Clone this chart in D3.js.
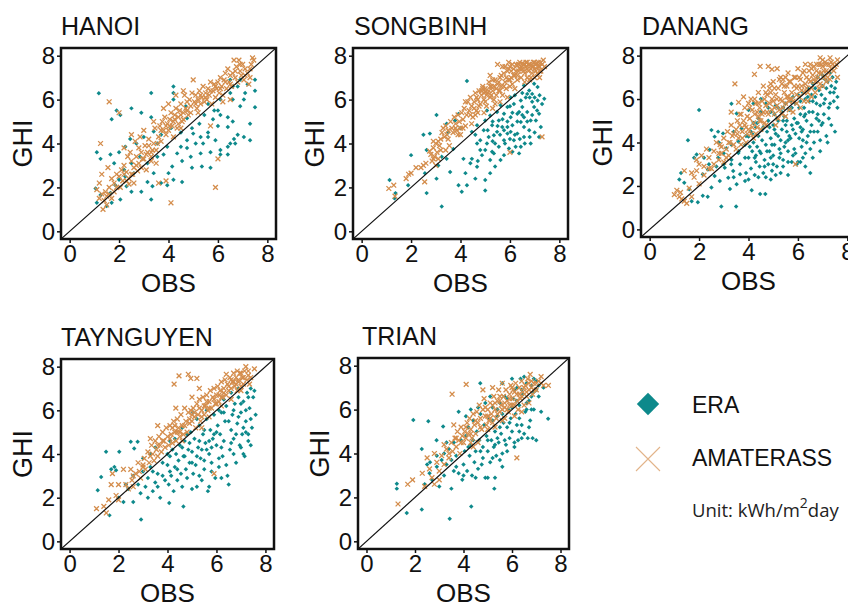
<!DOCTYPE html>
<html><head><meta charset="utf-8">
<script src="https://cdn.jsdelivr.net/npm/d3@7"></script>
<style>body{margin:0;background:#fff}svg{display:block}</style>
</head><body><svg id="c" width="848" height="602"></svg>
<script>
// ---------- data ----------
const stations = ["HANOI","SONGBINH","DANANG","TAYNGUYEN","TRIAN"];
const seriesNames = ["ERA","AMATERASS"];
const tickValues = [0,2,4,6,8];
const xTitle = "OBS", yTitle = "GHI";
const unitText = ["Unit: kWh/m","2","day"];

const hanoiERA = [[1.18,6.29],[4.2,6.6],[4.2,6.3],[3.3,6.3],[2.5,5.6],[1.9,5.5],[2.05,5.3],[1.7,5.1],[2.9,5.4],[3.3,5.2],[4.2,6.0],[4.7,5.7],[5.6,5.8],[6.0,5.5],[6.1,6.0],[6.5,6.3],[6.6,6.6],[7.2,6.7],[7.5,6.4],[7.1,6.3],[6.8,6.6],[6.9,6.9],[6.5,6.9],[7.5,6.9],[6.6,6.0],[6.9,5.7],[6.4,5.2],[5.8,5.1],[6.1,5.3],[6.6,5.0],[6.4,4.75],[6.0,4.8],[5.6,4.5],[5.3,4.3],[5.0,4.45],[4.75,4.15],[5.1,4.0],[5.4,4.0],[5.6,4.3],[5.9,4.15],[6.8,4.4],[6.7,4.0],[7.3,4.15],[6.4,3.85],[6.1,3.7],[6.1,3.5],[6.4,3.5],[5.7,3.6],[5.7,2.9],[5.3,3.55],[4.9,3.4],[4.55,3.2],[4.15,2.95],[4.0,2.65],[4.2,2.35],[4.55,2.25],[3.7,2.2],[3.4,2.65],[3.15,2.25],[2.9,1.8],[3.3,1.45],[2.5,1.8],[2.3,2.05],[2.05,1.45],[1.7,1.3],[1.5,1.15],[1.1,1.3],[1.25,1.65],[1.05,1.95],[1.65,1.75],[1.85,2.1],[2.0,2.35],[2.2,2.8],[1.8,3.1],[1.25,3.3],[1.1,3.6],[1.65,3.5],[2.0,3.6],[2.25,3.85],[2.45,4.2],[2.7,4.0],[3.0,4.3],[3.4,4.55],[3.7,4.4],[3.55,4.0],[3.95,3.85],[3.8,3.5],[4.35,3.55],[4.5,3.85],[4.75,3.8],[4.95,4.7],[4.5,4.5],[4.1,4.7],[3.55,3.4],[3.15,3.1],[2.85,3.4],[2.5,3.1],[2.6,2.65],[2.25,2.5],[3.35,2.05],[3.95,2.1],[4.95,2.9],[5.35,2.95],[6.5,4.0],[7.05,4.3],[7.3,4.9],[7.5,5.65],[5.85,5.5],[4.75,5.15],[5.25,4.9],[5.45,5.3],[7.05,6.0],[6.65,4.2]];
const hanoiAMA = [[1.1,1.9],[1.2,2.2],[1.3,1.7],[1.4,1.4],[1.5,1.2],[1.35,1.0],[1.5,1.6],[1.6,2.0],[1.2,1.5],[1.7,1.5],[1.45,1.8],[1.8,2.2],[1.9,2.6],[1.7,2.4],[1.25,4.0],[1.6,5.9],[2.0,5.4],[1.55,2.9],[1.3,2.6],[2.0,2.5],[2.1,2.8],[2.2,3.0],[2.3,2.7],[2.4,2.4],[2.5,3.2],[2.6,2.9],[2.7,3.4],[2.8,3.1],[2.9,3.6],[2.15,2.3],[2.35,3.4],[2.55,2.6],[2.75,2.75],[2.45,3.6],[2.65,4.1],[2.85,4.3],[2.2,3.8],[2.9,2.9],[2.05,2.0],[2.4,2.15],[2.6,2.2],[3.0,3.3],[2.8,3.8],[2.5,4.4],[3.1,3.5],[3.2,3.9],[3.3,3.2],[3.4,4.0],[3.5,3.7],[3.6,4.3],[3.7,4.1],[3.8,4.6],[3.9,4.4],[3.0,4.6],[3.2,4.2],[3.45,4.7],[3.65,4.8],[3.75,5.0],[3.85,5.2],[3.95,4.9],[3.3,3.6],[3.6,2.2],[3.9,2.3],[3.5,3.1],[3.1,2.8],[3.8,5.6],[3.4,5.0],[3.05,3.9],[4.0,4.6],[4.05,5.1],[4.1,5.4],[4.15,4.8],[4.2,5.0],[4.25,5.3],[4.3,5.6],[4.35,4.7],[4.4,5.2],[4.45,5.5],[4.5,5.8],[4.55,5.0],[4.6,5.4],[4.65,6.2],[4.7,5.6],[4.75,5.9],[4.8,5.3],[4.85,6.0],[4.9,5.7],[4.95,6.3],[4.1,1.3],[4.2,4.3],[4.5,4.7],[4.3,6.2],[4.0,5.8],[4.6,6.4],[5.0,6.9],[5.05,5.9],[5.1,6.2],[5.15,5.6],[5.2,6.0],[5.25,6.4],[5.3,5.8],[5.35,6.1],[5.4,6.6],[5.45,5.9],[5.5,6.3],[5.55,6.0],[5.6,6.5],[5.65,6.2],[5.7,6.8],[5.75,5.8],[5.8,6.4],[5.85,6.7],[5.9,6.1],[5.95,6.5],[5.9,2.0],[5.7,4.8],[6.0,3.3],[6.0,6.8],[6.05,6.3],[6.1,7.0],[6.15,6.6],[6.2,6.2],[6.25,6.9],[6.3,7.2],[6.35,6.5],[6.4,7.4],[6.45,6.8],[6.5,7.1],[6.55,6.6],[6.6,7.2],[6.65,7.8],[6.7,7.0],[6.75,7.5],[6.8,6.8],[6.85,7.8],[6.9,7.3],[6.95,7.1],[7.0,7.6],[7.05,6.9],[7.1,7.4],[7.2,7.2],[7.3,7.0],[7.35,7.6],[7.4,7.9],[7.45,7.8],[7.25,6.7],[6.5,6.0],[6.2,5.9],[1.6,1.7],[1.9,2.0],[2.2,2.6],[2.5,2.6],[2.7,3.0],[2.95,3.3],[3.15,3.6],[3.35,3.7],[3.55,4.0],[3.7,4.6],[3.9,4.8],[4.05,4.8],[4.25,5.1],[4.4,4.9],[4.6,5.1],[4.75,5.5],[4.9,5.4],[5.1,5.8],[5.3,6.2],[5.5,6.1],[5.7,6.4],[5.9,6.6],[6.1,6.5],[6.3,6.8],[6.5,6.7],[6.7,7.3],[6.9,7.6],[7.1,7.1],[7.3,7.4],[5.2,5.4],[4.5,5.3],[3.3,3.4],[2.3,2.3],[1.8,1.8]];

const songbinhERA = [[1.13,2.34],[1.37,1.74],[1.33,1.5],[2.0,3.47],[1.88,2.1],[2.5,4.4],[2.76,4.45],[2.63,3.7],[3.03,5.3],[2.56,2.65],[2.63,1.74],[3.03,2.4],[3.24,1.13],[3.1,3.0],[3.44,3.3],[3.58,2.7],[3.5,4.5],[3.44,4.9],[3.78,5.05],[3.92,5.35],[4.26,6.85],[3.99,4.7],[3.71,3.75],[4.12,3.3],[4.4,3.1],[4.2,2.65],[3.92,2.1],[4.05,1.8],[4.26,2.1],[4.46,3.3],[4.67,4.0],[4.8,3.7],[4.6,4.4],[4.94,4.6],[5.0,2.34],[5.0,1.86],[5.2,2.65],[5.2,3.25],[5.28,3.62],[5.07,4.0],[5.14,4.3],[5.4,4.0],[5.48,4.53],[5.28,4.83],[5.55,5.05],[5.76,5.36],[5.69,4.75],[5.9,4.45],[5.76,4.15],[5.55,3.85],[5.35,3.55],[5.62,3.25],[5.4,2.95],[5.76,3.47],[5.96,3.77],[6.1,3.62],[6.37,3.55],[6.44,3.85],[6.16,4.15],[6.3,4.45],[6.57,4.3],[6.57,4.75],[6.78,4.6],[6.84,5.05],[6.44,4.98],[6.1,4.83],[6.03,5.2],[6.3,5.36],[6.5,5.66],[6.7,5.43],[6.98,5.66],[7.12,5.96],[7.18,5.36],[7.05,5.05],[7.39,6.04],[6.9,6.26],[6.64,6.1],[6.44,5.96],[6.16,5.8],[5.9,5.66],[6.03,6.1],[7.12,6.57],[6.98,6.72],[6.78,6.41],[6.57,6.64],[5.48,5.43],[5.2,5.28],[5.0,5.05],[4.67,4.83],[4.46,4.53],[5.9,4.75],[5.76,4.6],[6.23,3.85],[6.84,4.0],[7.18,4.3],[7.25,4.75],[5.35,4.38],[4.8,4.15],[4.87,3.47],[4.6,2.4],[4.67,2.94],[3.24,3.4],[6.57,5.2],[6.03,4.53],[6.37,5.43],[5.62,5.74],[5.07,5.5],[6.7,6.26],[5.1,4.6],[5.3,5.0],[5.5,4.8],[5.7,5.1],[5.9,5.0],[6.1,5.4],[6.3,5.0],[6.5,5.3],[6.7,5.0],[6.9,5.3],[7.1,5.5],[7.3,5.8],[5.6,4.4],[5.8,4.0],[6.0,4.2],[6.2,4.4],[6.4,4.2],[6.6,4.0],[6.8,4.3],[7.0,4.5],[6.0,5.7],[6.2,6.2],[6.5,6.3],[6.9,5.9],[7.2,6.2],[5.3,4.1],[5.0,3.7],[4.7,3.2],[6.8,6.1],[7.0,6.1]];
const songbinhAMA = [[1.1,1.95],[1.3,2.1],[1.35,1.6],[1.8,2.4],[2.0,2.65],[2.2,2.9],[2.4,2.9],[2.55,2.25],[2.6,3.1],[2.5,3.0],[1.9,2.6],[2.8,3.5],[2.85,3.2],[2.9,3.8],[2.95,3.4],[3.0,4.0],[3.05,3.6],[3.1,3.3],[2.75,3.65],[3.15,3.9],[3.2,4.2],[3.25,4.5],[3.3,4.7],[3.35,4.3],[3.4,4.8],[3.45,4.4],[3.5,4.6],[3.55,3.9],[3.0,3.0],[3.1,4.1],[3.4,3.7],[2.9,4.1],[3.6,5.0],[3.65,4.7],[3.7,4.5],[3.75,5.2],[3.8,4.9],[3.85,4.6],[3.9,5.3],[3.95,5.0],[4.0,4.7],[4.05,5.4],[4.1,5.1],[4.15,5.6],[4.2,4.8],[4.25,5.3],[4.3,5.9],[4.35,5.5],[4.4,6.1],[4.45,5.7],[4.5,5.2],[4.0,4.4],[4.2,5.9],[3.9,4.4],[4.45,4.9],[4.55,5.9],[4.6,6.3],[4.65,5.5],[4.7,6.0],[4.75,6.4],[4.8,5.8],[4.85,6.2],[4.9,6.6],[4.95,6.0],[5.0,6.5],[5.05,5.7],[5.1,6.3],[5.15,6.8],[5.2,6.1],[5.25,6.6],[5.3,6.4],[5.35,6.0],[5.4,6.9],[5.45,6.2],[5.5,6.7],[5.0,6.35],[4.95,5.4],[5.3,5.6],[4.6,5.3],[5.2,7.1],[5.4,5.8],[5.55,6.4],[5.6,7.0],[5.65,6.6],[5.7,6.2],[5.75,7.2],[5.8,6.8],[5.85,6.5],[5.9,7.3],[5.95,6.9],[6.0,7.5],[6.05,7.0],[6.1,6.7],[6.15,7.4],[6.2,7.1],[6.25,7.6],[6.3,6.9],[6.35,7.3],[6.4,7.7],[6.45,7.0],[6.5,7.4],[5.6,5.9],[5.9,6.1],[6.0,6.6],[6.3,7.55],[5.5,7.6],[5.7,7.5],[6.0,3.6],[5.95,7.7],[6.2,6.5],[6.55,7.6],[6.6,7.2],[6.65,7.5],[6.7,7.7],[6.75,7.3],[6.8,7.6],[6.85,7.0],[6.9,7.5],[6.95,7.7],[7.0,7.4],[7.05,7.6],[7.1,7.2],[7.15,7.7],[7.2,7.5],[7.25,7.3],[7.3,7.6],[7.35,7.8],[7.4,7.5],[6.6,6.8],[6.8,6.9],[7.0,7.0],[7.3,4.3],[6.7,7.0],[7.2,7.0],[6.5,7.65],[7.1,7.65],[4.55,5.6],[4.65,6.1],[4.75,5.7],[4.85,6.4],[4.95,6.3],[5.05,6.2],[5.15,6.4],[5.25,6.2],[5.35,6.6],[5.45,6.5],[5.55,6.8],[5.65,7.1],[5.75,6.6],[5.85,7.0],[5.95,7.4],[6.05,7.3],[6.15,7.1],[6.25,7.3],[6.35,7.6],[6.45,7.5],[6.55,7.3],[6.65,7.7],[6.75,7.6],[6.85,7.4],[6.95,7.5],[7.05,7.3],[7.15,7.5],[7.25,7.7],[6.1,7.6],[6.4,7.4],[6.7,7.4],[7.0,7.7],[5.8,7.5],[6.0,6.9],[6.3,7.1],[6.6,7.6],[6.9,7.2],[7.2,7.3],[5.3,6.9],[5.6,6.4],[5.0,5.9],[4.7,5.4],[4.4,5.3],[4.1,4.7],[3.8,4.7],[3.5,4.2],[3.2,3.7],[2.9,3.3],[4.9,6.5],[5.2,6.6]];

const danangERA = [[2.0,5.5],[1.55,4.1],[1.9,3.45],[1.8,3.3],[1.27,2.6],[1.2,2.3],[1.4,2.15],[1.7,1.3],[1.95,1.25],[2.15,1.55],[2.35,1.5],[2.9,1.05],[3.5,1.05],[4.13,1.8],[4.47,1.63],[4.68,1.63],[1.6,1.85],[2.5,1.93],[2.5,4.57],[2.77,4.5],[2.97,4.42],[2.63,4.27],[3.1,3.74],[2.77,3.3],[2.43,3.67],[3.04,2.84],[3.31,3.21],[3.38,2.69],[3.18,2.38],[3.66,2.54],[3.86,2.23],[3.52,2.08],[3.25,1.86],[2.84,2.23],[2.63,2.46],[2.36,2.76],[2.15,2.54],[3.66,3.0],[3.86,3.3],[3.59,3.52],[3.31,3.9],[3.59,4.05],[3.86,3.9],[4.0,4.27],[3.72,4.65],[3.52,5.33],[3.31,5.78],[4.0,3.3],[4.1,2.8],[4.15,3.6],[4.2,4.0],[4.25,2.5],[4.3,3.1],[4.35,3.8],[4.4,4.3],[4.45,2.9],[4.5,3.5],[4.55,4.1],[4.6,2.6],[4.65,3.2],[4.7,3.9],[4.75,4.5],[4.8,3.0],[4.85,3.6],[4.9,4.2],[4.95,2.7],[5.0,4.8],[4.1,4.5],[4.3,4.7],[4.6,4.7],[4.8,5.0],[4.4,5.1],[4.2,5.8],[4.5,6.0],[4.0,5.5],[4.9,5.4],[4.7,5.8],[5.0,3.4],[5.05,3.9],[5.1,4.4],[5.15,2.9],[5.2,5.0],[5.25,3.7],[5.3,4.1],[5.35,4.6],[5.4,3.2],[5.45,5.2],[5.5,4.0],[5.55,4.5],[5.6,3.6],[5.65,5.5],[5.7,4.2],[5.75,4.8],[5.8,3.4],[5.85,5.1],[5.9,4.4],[5.95,3.0],[5.1,2.5],[5.3,2.6],[5.6,2.5],[5.5,5.8],[5.2,5.6],[5.9,5.8],[5.75,3.1],[5.4,2.9],[5.05,5.3],[5.8,6.1],[6.0,4.9],[6.05,4.2],[6.1,5.3],[6.15,3.8],[6.2,4.6],[6.25,5.6],[6.3,3.5],[6.35,5.0],[6.4,4.3],[6.45,5.9],[6.5,2.6],[6.55,4.8],[6.6,5.4],[6.65,4.0],[6.7,6.1],[6.75,5.1],[6.8,4.5],[6.85,6.4],[6.9,5.7],[6.95,4.8],[7.0,6.6],[7.05,5.3],[7.1,6.0],[7.15,4.3],[7.2,6.8],[7.25,5.6],[7.3,6.3],[7.4,7.0],[7.45,5.9],[7.5,6.5],[7.55,6.8],[7.6,5.6],[7.35,4.8],[6.2,6.3],[6.4,6.5],[6.6,6.7],[6.3,6.0],[6.8,7.0],[7.0,7.1],[6.1,5.9],[7.3,7.2],[6.1,3.1],[6.0,3.1],[6.3,2.9],[2.8,4.0],[3.0,3.5],[3.4,4.5],[4.9,3.3],[5.2,4.3],[5.6,4.1],[6.2,4.1],[6.5,3.7],[6.9,4.1],[4.3,3.4],[4.7,2.4],[5.4,5.6],[6.6,5.9],[4.05,3.8],[4.15,4.4],[4.25,3.3],[4.35,4.9],[4.45,3.6],[4.55,4.6],[4.65,2.9],[4.75,3.6],[4.85,4.7],[4.95,3.9],[5.05,4.6],[5.15,5.1],[5.25,3.3],[5.35,5.4],[5.45,3.8],[5.55,5.0],[5.65,4.3],[5.75,5.6],[5.85,3.7],[5.95,4.9],[6.05,5.6],[6.15,4.5],[6.25,5.2],[6.35,4.0],[6.45,5.4],[6.55,6.2],[6.65,4.5],[6.75,5.8],[6.85,5.0],[6.95,6.2],[7.05,5.8],[7.15,6.5],[7.25,5.1],[7.35,6.6],[7.45,6.3],[5.0,3.0],[5.3,3.5],[5.6,3.1],[5.9,3.5],[6.2,3.3],[6.6,3.3],[6.9,3.6],[7.2,4.0],[7.5,4.5],[7.6,6.1],[6.0,6.2],[5.7,5.9],[5.4,5.0],[5.1,5.7],[4.8,5.6],[4.5,5.4],[4.2,4.9],[3.9,4.3],[3.6,3.6],[3.3,3.0],[3.0,3.0],[2.7,2.9],[2.4,3.0],[2.2,3.3],[3.4,2.4],[3.9,2.6],[4.0,2.3],[4.4,2.4],[4.9,2.3],[6.3,5.3],[6.5,4.5],[6.8,5.3],[7.0,4.9],[7.3,5.8],[6.1,4.7],[5.8,4.6],[5.5,4.8],[6.4,6.1],[6.7,6.5],[7.1,6.9]];
const danangAMA = [[1.0,1.6],[1.1,1.8],[1.2,1.5],[1.3,1.4],[1.4,1.3],[1.5,1.2],[1.25,1.7],[1.4,2.7],[1.6,1.9],[1.7,2.6],[1.8,2.4],[1.9,3.2],[2.0,3.0],[2.2,2.5],[2.3,3.7],[2.4,3.3],[2.5,2.8],[2.6,3.6],[2.7,4.0],[2.0,2.1],[1.7,1.5],[2.1,3.4],[2.8,3.2],[2.85,3.9],[2.9,3.5],[3.0,3.1],[3.0,4.2],[3.1,3.7],[3.15,4.5],[3.2,3.4],[3.25,4.0],[3.3,4.8],[3.35,4.3],[3.4,3.9],[3.45,6.7],[3.5,4.6],[3.55,5.0],[3.6,4.2],[3.6,5.85],[3.65,4.8],[3.7,5.3],[3.75,4.5],[3.8,5.0],[3.85,5.6],[3.9,4.7],[3.95,5.2],[3.3,5.4],[3.8,6.1],[3.5,3.7],[3.7,3.9],[4.0,5.8],[4.0,4.6],[4.05,5.1],[4.1,4.4],[4.15,5.5],[4.2,4.9],[4.24,7.14],[4.25,5.3],[4.3,5.8],[4.35,4.7],[4.4,5.2],[4.45,5.6],[4.47,7.5],[4.5,5.0],[4.55,5.9],[4.6,5.4],[4.65,4.9],[4.7,5.7],[4.75,6.2],[4.8,5.3],[4.8,7.5],[4.85,5.8],[4.9,6.3],[4.95,5.5],[4.95,7.37],[4.1,6.0],[4.4,6.3],[4.6,6.6],[4.3,4.4],[4.7,4.8],[4.9,6.7],[5.0,5.9],[5.05,5.3],[5.1,6.2],[5.15,5.7],[5.16,7.4],[5.2,6.5],[5.25,5.5],[5.3,6.0],[5.35,6.7],[5.4,5.6],[5.45,6.3],[5.5,5.8],[5.55,6.6],[5.6,6.1],[5.65,5.5],[5.7,6.8],[5.75,6.3],[5.8,5.9],[5.85,6.6],[5.9,7.0],[5.95,6.2],[5.2,5.1],[5.5,5.2],[5.8,5.4],[5.3,7.0],[5.6,7.2],[5.1,4.8],[5.4,6.9],[5.7,6.0],[5.9,3.0],[6.0,6.6],[6.05,6.1],[6.1,6.9],[6.15,6.4],[6.2,7.2],[6.25,5.9],[6.3,6.7],[6.35,7.0],[6.4,6.3],[6.45,7.3],[6.5,6.8],[6.55,6.5],[6.6,7.1],[6.65,7.5],[6.7,6.8],[6.75,7.3],[6.8,7.0],[6.85,7.6],[6.9,6.7],[6.95,7.2],[7.0,7.5],[7.05,7.0],[7.1,7.7],[7.15,7.3],[7.2,7.0],[7.25,7.6],[7.3,7.9],[7.35,7.4],[7.4,7.6],[7.5,7.5],[7.6,7.8],[6.1,5.6],[6.4,5.9],[6.7,6.3],[7.0,6.6],[7.3,6.9],[7.6,7.0],[6.3,7.6],[6.9,7.9],[3.55,4.4],[3.65,5.3],[3.75,4.2],[3.85,4.8],[3.95,4.4],[4.05,5.6],[4.15,4.7],[4.25,6.0],[4.35,5.4],[4.45,5.0],[4.55,5.3],[4.65,6.0],[4.75,5.4],[4.85,6.5],[4.95,6.0],[5.05,6.5],[5.15,6.0],[5.25,6.9],[5.35,5.9],[5.45,6.6],[5.55,6.1],[5.65,6.8],[5.75,6.0],[5.85,7.0],[5.95,6.5],[6.05,7.0],[6.15,6.6],[6.25,7.3],[6.35,6.5],[6.45,6.9],[6.55,7.4],[6.65,6.9],[6.75,7.6],[6.85,7.2],[6.95,7.6],[7.05,7.3],[7.15,7.6],[7.25,7.2],[7.35,7.7],[7.45,7.3],[7.55,7.6],[5.05,5.6],[5.35,5.3],[5.65,5.9],[5.95,5.8],[6.25,6.3],[6.55,6.1],[6.85,6.5],[7.15,6.8],[4.5,4.6],[4.2,4.2],[3.9,4.0],[6.0,7.4],[6.5,7.6],[7.0,7.8],[4.4,5.8],[4.7,6.3],[5.0,6.8],[5.5,7.0],[3.4,4.4],[3.2,4.0],[2.9,3.8],[2.6,3.0],[2.4,2.8],[2.2,2.9],[2.8,3.5],[1.9,2.7],[3.1,3.3]];

const tayERA = [[1.15,2.34],[1.63,1.19],[2.92,1.0],[4.07,1.76],[4.65,1.6],[1.49,4.1],[2.03,4.1],[1.83,3.41],[1.9,3.26],[1.29,2.95],[2.5,4.56],[2.78,4.56],[2.64,4.25],[2.6,3.0],[2.8,2.6],[3.0,3.2],[3.1,2.5],[3.2,2.9],[3.3,3.4],[3.4,2.3],[3.5,2.7],[3.6,3.1],[3.7,2.0],[3.8,3.6],[3.9,2.8],[3.3,4.0],[3.5,4.3],[3.0,3.8],[2.4,2.4],[2.2,1.8],[2.6,1.8],[2.9,2.2],[3.2,2.0],[3.6,2.5],[1.7,3.3],[2.0,2.0],[2.3,2.6],[4.0,3.5],[4.05,2.6],[4.1,3.9],[4.15,3.0],[4.2,4.2],[4.25,2.3],[4.3,3.4],[4.35,4.0],[4.4,2.8],[4.45,3.7],[4.5,4.4],[4.55,3.1],[4.6,2.5],[4.65,3.9],[4.7,4.6],[4.75,3.3],[4.8,2.9],[4.85,4.2],[4.9,3.6],[4.95,5.0],[4.3,4.7],[4.6,5.2],[4.1,4.6],[4.8,4.9],[5.0,4.1],[5.05,3.1],[5.1,4.7],[5.15,3.5],[5.2,2.5],[5.25,4.3],[5.3,5.3],[5.35,3.8],[5.4,2.8],[5.45,4.9],[5.5,3.3],[5.55,4.5],[5.6,5.6],[5.65,2.3],[5.7,4.0],[5.75,5.1],[5.8,3.6],[5.85,4.7],[5.9,5.8],[5.95,2.9],[5.2,5.6],[5.5,5.1],[5.7,2.5],[5.3,3.0],[5.8,4.3],[5.05,5.9],[5.6,6.0],[6.0,4.4],[6.05,5.3],[6.1,3.4],[6.15,4.9],[6.2,5.9],[6.25,3.9],[6.3,4.6],[6.35,5.5],[6.4,6.2],[6.45,3.0],[6.5,2.6],[6.55,4.2],[6.6,5.1],[6.65,5.8],[6.7,4.7],[6.75,6.3],[6.8,3.6],[6.85,5.4],[6.9,6.6],[6.95,4.4],[7.0,5.9],[7.05,4.9],[7.1,6.4],[7.15,3.9],[7.2,5.5],[7.25,6.8],[7.3,4.6],[7.35,6.1],[7.4,7.0],[7.45,5.2],[7.5,6.6],[7.55,6.9],[7.6,5.8],[6.3,6.5],[6.6,6.8],[6.9,7.0],[7.1,4.0],[7.3,4.9],[6.1,6.0],[7.2,5.0],[4.1,3.2],[4.4,3.3],[4.7,3.9],[5.0,3.6],[5.3,4.6],[5.6,4.2],[5.9,4.9],[6.2,4.3],[6.5,5.5],[6.8,4.9],[7.1,5.2],[7.4,5.6],[5.4,4.2],[5.7,4.6],[6.0,5.0],[6.3,5.9],[6.6,4.5],[6.9,5.7],[7.2,6.0],[4.6,4.3],[4.9,4.5],[5.2,3.9],[5.5,3.7],[5.8,3.2],[6.1,3.8],[6.4,3.5],[6.7,4.0],[7.0,4.3],[7.4,4.4],[6.2,2.9],[5.0,2.4],[3.8,3.0],[4.0,4.0],[3.4,3.2],[6.7,6.0],[7.0,6.3],[7.3,6.6]];
const tayAMA = [[1.1,1.5],[1.5,1.3],[1.6,1.9],[1.7,2.6],[1.75,3.1],[1.9,2.1],[2.0,1.9],[2.2,3.3],[2.3,2.6],[2.4,2.4],[2.5,3.3],[2.55,2.8],[2.6,2.5],[2.7,3.1],[2.8,3.6],[2.85,3.2],[2.9,2.9],[3.0,3.5],[3.05,3.8],[3.1,3.3],[3.2,4.1],[3.25,3.6],[3.3,3.9],[3.35,4.4],[3.4,4.0],[3.45,3.7],[3.5,4.6],[3.55,4.2],[3.6,3.9],[3.65,4.8],[3.7,4.4],[3.75,4.1],[3.8,5.0],[3.85,4.6],[3.9,4.3],[3.95,5.2],[3.3,4.7],[3.6,5.3],[2.0,2.6],[1.4,1.6],[4.0,4.8],[4.05,4.4],[4.1,5.3],[4.15,4.9],[4.2,4.5],[4.25,5.5],[4.3,5.0],[4.35,4.6],[4.4,5.6],[4.45,5.2],[4.5,4.8],[4.55,5.8],[4.6,5.3],[4.65,4.9],[4.7,6.1],[4.75,5.5],[4.8,5.0],[4.85,5.9],[4.9,5.4],[4.95,6.0],[4.34,6.1],[4.27,7.2],[4.47,7.58],[4.85,7.65],[4.95,7.46],[4.2,5.2],[4.6,4.6],[5.0,5.5],[5.05,6.1],[5.1,5.7],[5.15,5.2],[5.2,7.46],[5.2,6.3],[5.25,5.8],[5.3,6.5],[5.35,5.5],[5.4,6.0],[5.45,6.6],[5.5,5.8],[5.55,6.2],[5.6,6.7],[5.65,6.0],[5.7,6.4],[5.75,6.9],[5.8,6.1],[5.85,6.6],[5.9,3.1],[5.9,7.0],[5.95,6.3],[5.4,5.2],[5.7,5.7],[5.0,6.6],[5.3,7.0],[6.0,6.7],[6.05,7.1],[6.1,6.4],[6.15,6.9],[6.2,7.3],[6.25,6.6],[6.3,7.0],[6.35,7.4],[6.4,6.7],[6.45,7.2],[6.5,6.9],[6.55,7.5],[6.6,7.0],[6.65,7.3],[6.7,7.7],[6.75,7.1],[6.8,7.5],[6.85,6.9],[6.9,7.3],[6.95,7.7],[7.0,7.1],[7.05,7.5],[7.1,7.2],[7.15,7.8],[7.2,8.0],[7.25,7.4],[7.3,7.6],[7.35,7.2],[7.4,7.5],[7.55,7.9],[6.2,6.2],[6.6,6.5],[7.0,6.9],[6.4,7.65],[6.85,7.8],[4.1,4.7],[4.3,5.3],[4.5,5.0],[4.7,5.3],[4.9,5.6],[5.1,5.9],[5.3,6.1],[5.5,6.2],[5.7,6.1],[5.9,6.5],[6.1,6.7],[6.3,6.8],[6.5,7.1],[6.7,7.3],[6.9,7.4],[7.1,7.5],[7.3,7.8],[5.6,6.4],[6.2,6.6],[6.8,7.2],[3.8,4.6],[3.6,4.4],[4.4,5.0],[5.0,5.8],[5.4,5.7],[6.0,6.3],[6.6,7.4],[7.0,7.7],[3.0,3.4],[2.6,3.0]];

const trianERA = [[1.25,2.62],[1.25,2.4],[1.66,1.29],[2.28,1.45],[3.43,1.03],[4.32,1.59],[5.27,2.4],[1.93,5.53],[2.55,5.47],[3.16,5.23],[4.69,7.2],[7.49,5.58],[2.28,4.21],[3.3,4.5],[2.89,4.6],[2.62,3.6],[2.4,2.6],[2.6,3.1],[2.7,2.8],[2.9,3.4],[3.0,2.5],[3.1,3.7],[3.2,3.0],[3.3,3.5],[3.4,4.2],[3.5,2.4],[3.6,3.2],[3.7,3.9],[3.8,3.1],[3.9,4.6],[3.95,2.8],[3.2,4.0],[2.5,3.5],[2.9,3.9],[3.6,4.5],[3.8,5.9],[3.5,3.7],[4.0,3.5],[4.05,4.1],[4.1,4.8],[4.15,3.2],[4.2,5.2],[4.25,3.9],[4.3,4.4],[4.35,3.0],[4.4,5.5],[4.45,3.6],[4.5,4.1],[4.55,5.0],[4.6,3.3],[4.65,4.6],[4.7,5.8],[4.75,3.5],[4.8,4.3],[4.85,5.3],[4.9,2.9],[4.95,4.8],[4.3,6.0],[4.6,6.1],[4.9,6.3],[4.5,2.9],[4.1,5.7],[5.0,4.1],[5.05,5.6],[5.1,3.6],[5.15,4.6],[5.2,6.1],[5.25,4.3],[5.3,5.0],[5.35,3.9],[5.4,5.7],[5.45,4.5],[5.5,6.3],[5.55,4.9],[5.6,4.0],[5.65,5.4],[5.7,6.6],[5.75,4.4],[5.8,5.2],[5.85,6.0],[5.9,4.7],[5.95,5.6],[5.1,6.6],[5.3,2.9],[5.5,3.7],[5.0,2.9],[5.6,7.2],[5.8,4.1],[5.4,4.7],[6.0,5.0],[6.05,6.5],[6.1,4.3],[6.15,5.8],[6.2,7.0],[6.25,4.6],[6.3,6.2],[6.35,7.4],[6.4,5.3],[6.45,6.7],[6.5,4.9],[6.55,5.9],[6.6,7.2],[6.65,4.7],[6.7,6.4],[6.75,5.5],[6.8,7.1],[6.85,4.7],[6.9,6.0],[7.0,7.3],[7.1,6.6],[7.2,5.9],[6.3,5.6],[6.6,6.0],[6.0,7.4],[7.0,4.6],[6.2,5.3],[6.9,6.8],[7.3,7.0],[5.2,5.5],[5.4,6.0],[5.6,5.8],[5.8,6.5],[6.0,6.1],[6.2,6.4],[6.4,6.9],[6.6,6.3],[6.8,6.6],[7.0,6.9],[6.1,6.9],[6.5,7.5],[6.9,7.4],[5.9,5.4],[6.3,5.0],[6.7,5.2],[5.5,5.2],[5.0,4.6],[4.7,4.1],[4.4,4.6],[4.2,4.3],[5.3,4.4],[5.7,4.6],[6.1,4.5],[6.4,4.7],[5.2,3.8],[4.8,3.8],[5.6,3.4],[4.0,3.0],[3.7,3.4],[6.8,6.0],[7.1,7.1]];
const trianAMA = [[1.3,1.7],[1.7,2.6],[1.9,2.8],[2.3,3.1],[2.5,3.8],[2.6,3.3],[2.7,2.9],[2.8,4.0],[2.8,2.6],[2.9,3.6],[3.0,3.2],[3.1,3.9],[3.2,3.5],[3.3,4.2],[3.4,3.8],[3.5,4.5],[3.55,4.1],[3.6,5.3],[3.53,6.7],[3.65,4.7],[3.7,4.3],[3.75,5.0],[3.8,4.6],[3.85,4.0],[3.9,5.2],[3.95,4.8],[3.2,4.4],[3.0,2.8],[2.4,2.5],[4.0,4.5],[4.05,5.0],[4.11,7.15],[4.1,4.7],[4.15,5.4],[4.2,4.9],[4.25,5.6],[4.3,5.1],[4.35,4.7],[4.4,5.8],[4.45,5.3],[4.5,4.9],[4.55,5.9],[4.6,5.4],[4.65,6.2],[4.7,5.6],[4.75,5.1],[4.8,6.0],[4.85,6.5],[4.9,5.7],[4.95,5.3],[4.6,4.5],[4.3,4.5],[4.8,6.9],[4.4,4.3],[5.0,6.0],[5.05,5.5],[5.1,6.3],[5.15,5.8],[5.2,5.4],[5.25,6.6],[5.3,6.0],[5.35,5.6],[5.4,6.4],[5.45,6.9],[5.5,5.9],[5.55,6.2],[5.6,5.5],[5.65,6.6],[5.7,6.1],[5.75,6.9],[5.8,6.4],[5.85,5.9],[5.9,6.7],[5.95,7.1],[5.3,5.2],[5.6,7.2],[5.7,5.6],[5.0,5.1],[5.2,7.0],[5.5,6.6],[5.9,6.2],[6.0,6.5],[6.05,6.9],[6.1,6.2],[6.15,7.2],[6.2,3.8],[6.2,6.7],[6.25,6.0],[6.3,7.0],[6.35,6.5],[6.4,7.3],[6.45,6.8],[6.5,6.2],[6.55,7.1],[6.6,6.6],[6.65,7.4],[6.7,6.9],[6.75,7.6],[6.8,7.0],[6.85,6.7],[6.9,7.2],[7.0,6.9],[7.1,7.3],[7.2,7.5],[7.3,7.1],[7.5,7.1],[6.1,5.7],[6.4,5.9],[6.0,7.0],[6.7,6.3],[4.5,5.5],[4.7,5.2],[4.9,6.1],[5.1,5.6],[5.3,6.3],[5.5,6.4],[5.7,6.3],[5.9,6.5],[6.1,6.8],[6.3,6.7],[6.5,7.0],[6.7,7.2],[6.9,6.9],[5.4,5.8],[5.8,6.0],[6.2,6.4],[6.6,6.8],[7.0,7.2],[4.3,4.9],[4.1,5.2],[3.9,4.5],[3.7,4.7],[5.0,5.7],[5.2,6.2],[5.6,6.0],[6.0,6.2],[6.4,6.6],[6.8,7.3],[7.2,7.2],[3.4,4.0]];

const eraSeries = [hanoiERA, songbinhERA, danangERA, tayERA, trianERA];
const amaSeries = [hanoiAMA, songbinhAMA, danangAMA, tayAMA, trianAMA];

// ---------- layout & style ----------
const ERA_COLOR = "#0d898b", AMA_COLOR = "#d48d4c";
const boxes = [[61,48,276,239],[353,48,568,239],[641,48,856,237],[61,359,274,549],[358,358,569,549]];
const titlePos = [[61,35],[354,35],[642,35],[61,346],[362,345]];
const FONT = "'Liberation Sans', Arial, Helvetica, sans-serif";
const svg = d3.select("#c");

stations.forEach((name, i) => {
  const [x0,y0,x1,y1] = boxes[i];
  const x = d3.scaleLinear().domain([-0.35,8.35]).range([x0,x1]);
  const y = d3.scaleLinear().domain([-0.35,8.35]).range([y1,y0]);
  const g = svg.append("g");

  g.append("text").attr("x", titlePos[i][0]).attr("y", titlePos[i][1])
    .attr("font-family", FONT).attr("font-size", 25).attr("fill","#111").text(name);

  const ax = g.append("g").attr("transform", `translate(0,${y1})`)
    .call(d3.axisBottom(x).tickValues(tickValues).tickSize(4).tickPadding(2).tickFormat(d3.format("d")));
  const ay = g.append("g").attr("transform", `translate(${x0},0)`)
    .call(d3.axisLeft(y).tickValues(tickValues).tickSize(4).tickPadding(2).tickFormat(d3.format("d")));
  [ax, ay].forEach(a => {
    a.select(".domain").remove();
    a.selectAll("line").attr("stroke","#111").attr("stroke-width",1.5);
    a.selectAll("text").attr("font-family", FONT).attr("font-size", 24).attr("fill","#111");
  });

  g.append("text").attr("x", (x0+x1)/2).attr("y", y1+53).attr("text-anchor","middle")
    .attr("font-family", FONT).attr("font-size", 26).attr("fill","#111").text(xTitle);
  g.append("text").attr("transform", `translate(${x0-29},${(y0+y1)/2}) rotate(-90)`)
    .attr("text-anchor","middle").attr("font-family", FONT).attr("font-size", 27).attr("fill","#111").text(yTitle);

  const clipId = "clip"+i;
  g.append("clipPath").attr("id", clipId).append("rect").attr("x",x0).attr("y",y0).attr("width",x1-x0).attr("height",y1-y0);
  const pts = g.append("g").attr("clip-path", `url(#${clipId})`);

  pts.selectAll("path.era").data(eraSeries[i]).join("path").attr("class","era")
    .attr("transform", d => `translate(${x(d[0])},${y(d[1])}) rotate(45)`)
    .attr("d", d3.symbol(d3.symbolSquare, 10)).attr("fill", ERA_COLOR);

  const xPath = (() => { const p = d3.path(); const s = 2.4; p.moveTo(-s,-s); p.lineTo(s,s); p.moveTo(-s,s); p.lineTo(s,-s); return p.toString(); })();
  pts.selectAll("path.ama").data(amaSeries[i]).join("path").attr("class","ama")
    .attr("transform", d => `translate(${x(d[0])},${y(d[1])})`)
    .attr("d", xPath).attr("stroke", AMA_COLOR).attr("stroke-width", 1.3).attr("fill","none");

  pts.append("line").attr("x1", x(-0.35)).attr("y1", y(-0.35)).attr("x2", x(8.35)).attr("y2", y(8.35))
    .attr("stroke","#111").attr("stroke-width",1.2);

  g.append("rect").attr("x",x0).attr("y",y0).attr("width",x1-x0).attr("height",y1-y0)
    .attr("fill","none").attr("stroke","#111").attr("stroke-width",2.5);
});

// ---------- legend ----------
const lg = svg.append("g");
lg.append("path").attr("transform","translate(648,404) rotate(45)")
  .attr("d", d3.symbol(d3.symbolSquare, 250)).attr("fill", ERA_COLOR);
lg.append("text").attr("x",692).attr("y",413).attr("font-family",FONT).attr("font-size",23).attr("fill","#111").text(seriesNames[0]);
const lx = d3.path(); lx.moveTo(636,447); lx.lineTo(660,471); lx.moveTo(636,471); lx.lineTo(660,447);
lg.append("path").attr("d", lx.toString()).attr("stroke","#e2b48a").attr("stroke-width",1.1).attr("fill","none");
lg.append("text").attr("x",692).attr("y",466).attr("font-family",FONT).attr("font-size",23).attr("fill","#111").text(seriesNames[1]);
const ut = lg.append("text").attr("x",692).attr("y",517).attr("font-family","'Open Sans', 'Noto Sans', sans-serif").attr("font-size",18.5).attr("fill","#222");
ut.append("tspan").text(unitText[0]);
ut.append("tspan").attr("dy",-9).attr("font-size",14).text(unitText[1]);
ut.append("tspan").attr("dy",9).text(unitText[2]);
</script></body></html>
